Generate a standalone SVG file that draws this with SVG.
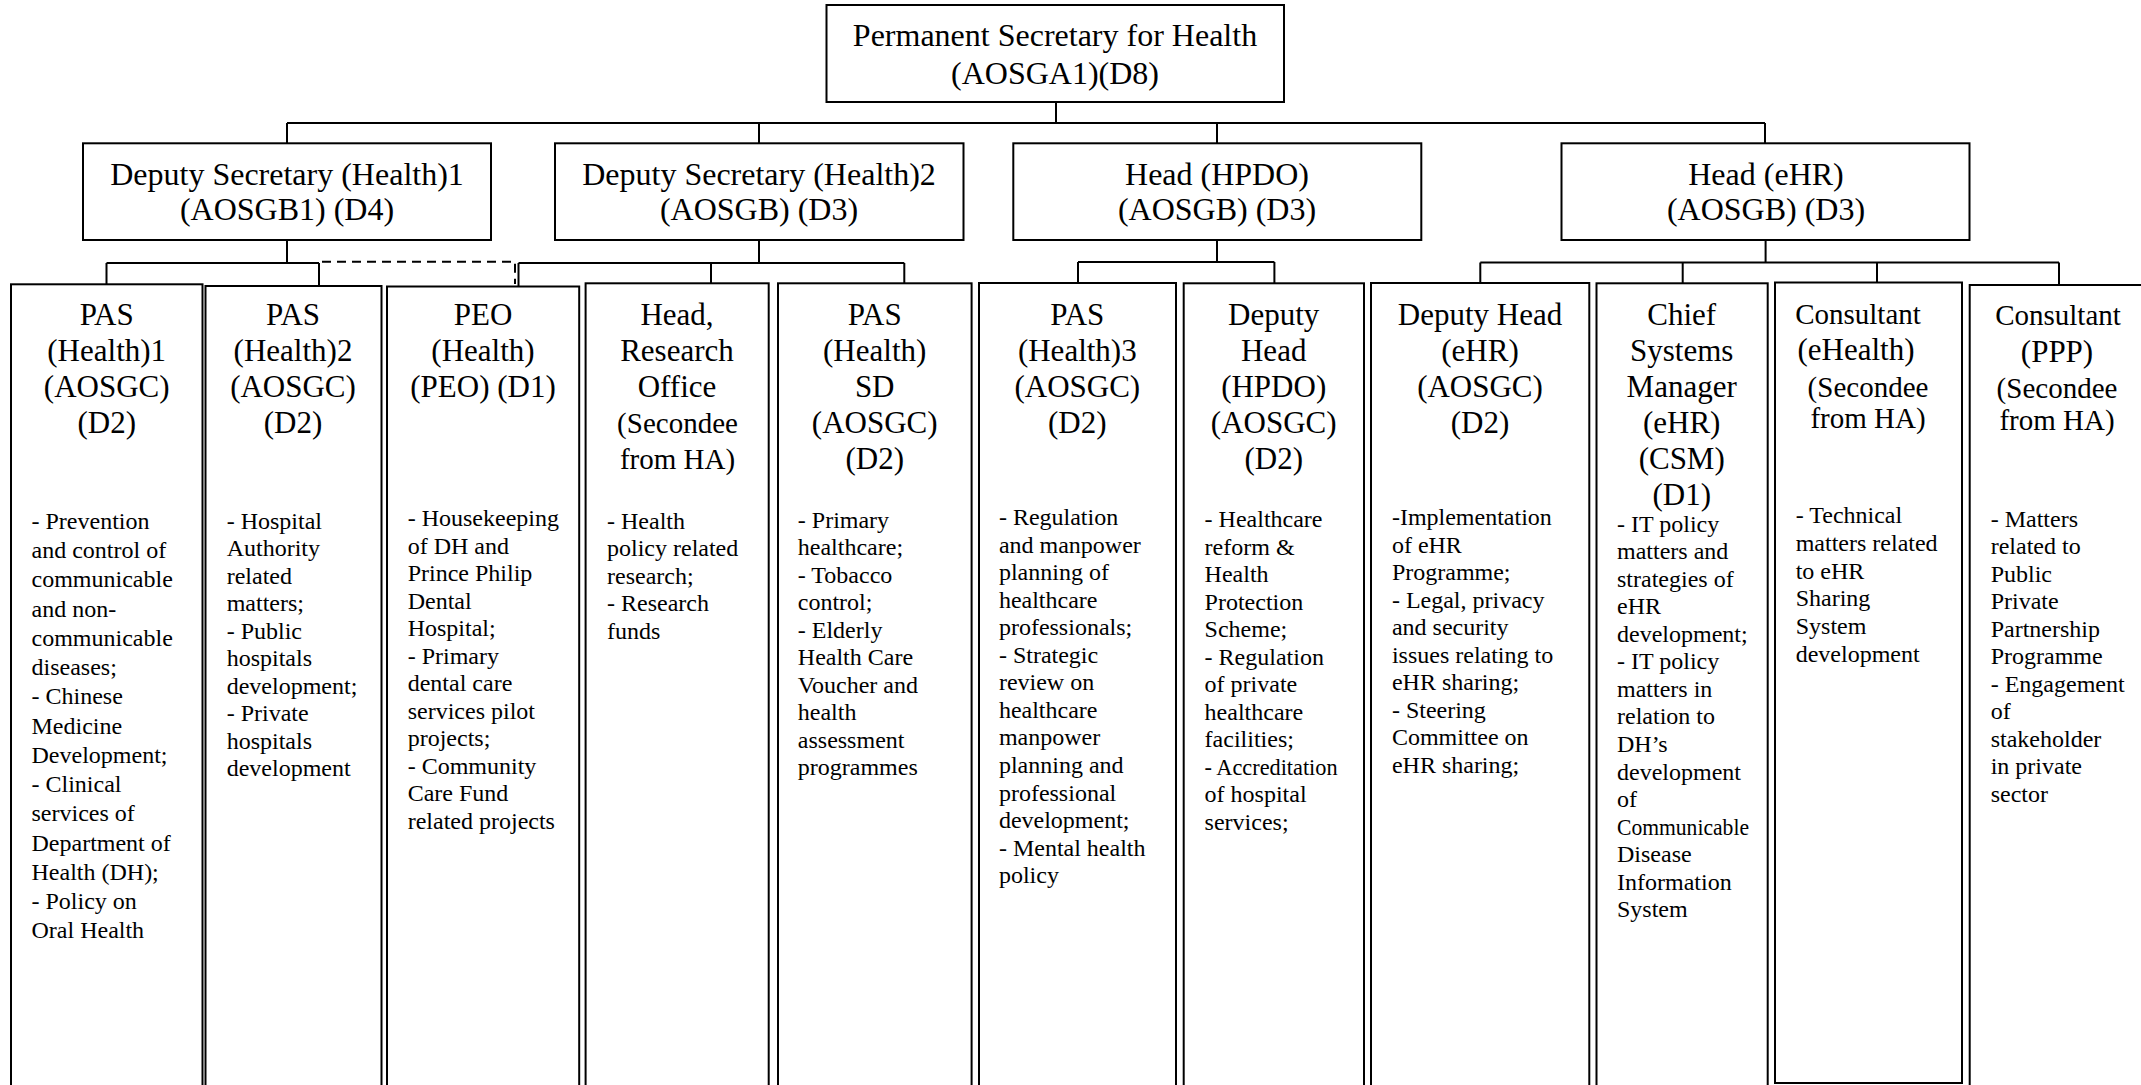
<svg xmlns="http://www.w3.org/2000/svg" width="2141" height="1085" viewBox="0 0 2141 1085">
<style>
.box{fill:#fff;stroke:#000;stroke-width:2}
.conn{fill:none;stroke:#000;stroke-width:2}
.dash{stroke-dasharray:9 6}
text{font-family:"Liberation Serif","Times New Roman",serif;fill:#000}
.t{font-size:32px;text-anchor:middle}
.h{font-size:31px;text-anchor:middle}
.s{font-size:29px;text-anchor:middle}
.b{font-size:24px}
</style>
<rect x="0" y="0" width="2141" height="1085" fill="#fff"/>

<g id="connectors">
  <path class="conn" d="M1056 102V123M287 123H1765M287 123V143M759 123V143M1217 123V143M1765 123V143"/>
  <path class="conn" d="M287 240V263M106.5 263H319M106.5 263V284M319 263V286"/>
  <path class="conn dash" d="M322 261.7H515V284"/>
  <path class="conn" d="M759 240V263M518.5 263H904.3M518.5 263V290M711 263V287M904.3 263V284"/>
  <path class="conn" d="M1217 240V262M1078 262H1274.4M1078 262V283M1274.4 262V283"/>
  <path class="conn" d="M1765.6 240V262.5M1480.3 262.5H2059M1480.3 262.5V283M1682.7 262.5V283M1877 262.5V283M2059 262.5V285"/>
</g>

<g id="ps">
  <rect class="box" x="826.5" y="5" width="457.5" height="97"/>
  <text class="t" x="1055" y="46">Permanent Secretary for Health</text>
  <text class="t" x="1055" y="84">(AOSGA1)(D8)</text>
</g>

<g id="ds1">
  <rect class="box" x="83" y="143.3" width="408" height="96.7"/>
  <text class="t" x="287" y="185">Deputy Secretary (Health)1</text>
  <text class="t" x="287" y="220">(AOSGB1) (D4)</text>
</g>
<g id="ds2">
  <rect class="box" x="555" y="143.3" width="408.5" height="96.7"/>
  <text class="t" x="759" y="185">Deputy Secretary (Health)2</text>
  <text class="t" x="759" y="220">(AOSGB) (D3)</text>
</g>
<g id="hpdo">
  <rect class="box" x="1013.3" y="143.3" width="408" height="96.7"/>
  <text class="t" x="1217" y="185">Head (HPDO)</text>
  <text class="t" x="1217" y="220">(AOSGB) (D3)</text>
</g>
<g id="ehr">
  <rect class="box" x="1561.5" y="143.3" width="408" height="96.7"/>
  <text class="t" x="1766" y="185">Head (eHR)</text>
  <text class="t" x="1766" y="220">(AOSGB) (D3)</text>
</g>

<g id="pas1">
  <rect class="box" x="11" y="284.3" width="191.5" height="820"/>
  <text class="h" x="106.7" y="325">PAS</text>
  <text class="h" x="106.7" y="361">(Health)1</text>
  <text class="h" x="106.7" y="397">(AOSGC)</text>
  <text class="h" x="106.7" y="433">(D2)</text>
  <text class="b" x="31.5" y="529"><tspan x="31.5">- Prevention</tspan><tspan x="31.5" dy="29.24">and control of</tspan><tspan x="31.5" dy="29.24">communicable</tspan><tspan x="31.5" dy="29.24">and non-</tspan><tspan x="31.5" dy="29.24">communicable</tspan><tspan x="31.5" dy="29.24">diseases;</tspan><tspan x="31.5" dy="29.24">- Chinese</tspan><tspan x="31.5" dy="29.24">Medicine</tspan><tspan x="31.5" dy="29.24">Development;</tspan><tspan x="31.5" dy="29.24">- Clinical</tspan><tspan x="31.5" dy="29.24">services of</tspan><tspan x="31.5" dy="29.24">Department of</tspan><tspan x="31.5" dy="29.24">Health (DH);</tspan><tspan x="31.5" dy="29.24">- Policy on</tspan><tspan x="31.5" dy="29.24">Oral Health</tspan></text>
</g>

<g id="pas2">
  <rect class="box" x="205.5" y="286" width="176" height="820"/>
  <text class="h" x="293" y="325">PAS</text>
  <text class="h" x="293" y="361">(Health)2</text>
  <text class="h" x="293" y="397">(AOSGC)</text>
  <text class="h" x="293" y="433">(D2)</text>
  <text class="b" x="226.7" y="529"><tspan x="226.7">- Hospital</tspan><tspan x="226.7" dy="27.44">Authority</tspan><tspan x="226.7" dy="27.44">related</tspan><tspan x="226.7" dy="27.44">matters;</tspan><tspan x="226.7" dy="27.44">- Public</tspan><tspan x="226.7" dy="27.44">hospitals</tspan><tspan x="226.7" dy="27.44">development;</tspan><tspan x="226.7" dy="27.44">- Private</tspan><tspan x="226.7" dy="27.44">hospitals</tspan><tspan x="226.7" dy="27.44">development</tspan></text>
</g>

<g id="peo">
  <rect class="box" x="387" y="286.5" width="192.2" height="820"/>
  <text class="h" x="483" y="325">PEO</text>
  <text class="h" x="483" y="361">(Health)</text>
  <text class="h" x="483" y="397">(PEO) (D1)</text>
  <text class="b" x="407.7" y="526"><tspan x="407.7">- Housekeeping</tspan><tspan x="407.7" dy="27.5">of DH and</tspan><tspan x="407.7" dy="27.5">Prince Philip</tspan><tspan x="407.7" dy="27.5">Dental</tspan><tspan x="407.7" dy="27.5">Hospital;</tspan><tspan x="407.7" dy="27.5">- Primary</tspan><tspan x="407.7" dy="27.5">dental care</tspan><tspan x="407.7" dy="27.5">services pilot</tspan><tspan x="407.7" dy="27.5">projects;</tspan><tspan x="407.7" dy="27.5">- Community</tspan><tspan x="407.7" dy="27.5">Care Fund</tspan><tspan x="407.7" dy="27.5">related projects</tspan></text>
</g>

<g id="research">
  <rect class="box" x="585.6" y="283.3" width="183.1" height="820"/>
  <text class="h" x="677" y="325">Head,</text>
  <text class="h" x="677" y="361">Research</text>
  <text class="h" x="677" y="397">Office</text>
  <text class="s" x="677.5" y="433">(Secondee</text>
  <text class="s" x="677.5" y="469">from HA)</text>
  <text class="b" x="607" y="528.5"><tspan x="607">- Health</tspan><tspan x="607" dy="27.6">policy related</tspan><tspan x="607" dy="27.6">research;</tspan><tspan x="607" dy="27.6">- Research</tspan><tspan x="607" dy="27.6">funds</tspan></text>
</g>

<g id="passd">
  <rect class="box" x="778" y="283.3" width="193.6" height="820"/>
  <text class="h" x="874.7" y="325">PAS</text>
  <text class="h" x="874.7" y="361">(Health)</text>
  <text class="h" x="874.7" y="397">SD</text>
  <text class="h" x="874.7" y="433">(AOSGC)</text>
  <text class="h" x="874.7" y="469">(D2)</text>
  <text class="b" x="797.8" y="527.5"><tspan x="797.8">- Primary</tspan><tspan x="797.8" dy="27.5">healthcare;</tspan><tspan x="797.8" dy="27.5">- Tobacco</tspan><tspan x="797.8" dy="27.5">control;</tspan><tspan x="797.8" dy="27.5">- Elderly</tspan><tspan x="797.8" dy="27.5">Health Care</tspan><tspan x="797.8" dy="27.5">Voucher and</tspan><tspan x="797.8" dy="27.5">health</tspan><tspan x="797.8" dy="27.5">assessment</tspan><tspan x="797.8" dy="27.5">programmes</tspan></text>
</g>

<g id="pas3">
  <rect class="box" x="979" y="283" width="197" height="820"/>
  <text class="h" x="1077.3" y="325">PAS</text>
  <text class="h" x="1077.3" y="361">(Health)3</text>
  <text class="h" x="1077.3" y="397">(AOSGC)</text>
  <text class="h" x="1077.3" y="433">(D2)</text>
  <text class="b" x="998.9" y="525"><tspan x="998.9">- Regulation</tspan><tspan x="998.9" dy="27.55">and manpower</tspan><tspan x="998.9" dy="27.55">planning of</tspan><tspan x="998.9" dy="27.55">healthcare</tspan><tspan x="998.9" dy="27.55">professionals;</tspan><tspan x="998.9" dy="27.55">- Strategic</tspan><tspan x="998.9" dy="27.55">review on</tspan><tspan x="998.9" dy="27.55">healthcare</tspan><tspan x="998.9" dy="27.55">manpower</tspan><tspan x="998.9" dy="27.55">planning and</tspan><tspan x="998.9" dy="27.55">professional</tspan><tspan x="998.9" dy="27.55">development;</tspan><tspan x="998.9" dy="27.55">- Mental health</tspan><tspan x="998.9" dy="27.55">policy</tspan></text>
</g>

<g id="dhhpdo">
  <rect class="box" x="1183.7" y="283.3" width="180.3" height="820"/>
  <text class="h" x="1273.7" y="325">Deputy</text>
  <text class="h" x="1273.7" y="361">Head</text>
  <text class="h" x="1273.7" y="397">(HPDO)</text>
  <text class="h" x="1273.7" y="433">(AOSGC)</text>
  <text class="h" x="1273.7" y="469">(D2)</text>
  <text class="b" x="1204.6" y="527"><tspan x="1204.6">- Healthcare</tspan><tspan x="1204.6" dy="27.5">reform &amp;</tspan><tspan x="1204.6" dy="27.5">Health</tspan><tspan x="1204.6" dy="27.5">Protection</tspan><tspan x="1204.6" dy="27.5">Scheme;</tspan><tspan x="1204.6" dy="27.5">- Regulation</tspan><tspan x="1204.6" dy="27.5">of private</tspan><tspan x="1204.6" dy="27.5">healthcare</tspan><tspan x="1204.6" dy="27.5">facilities;</tspan></text>
  <text class="b" x="1204.6" y="774.5" textLength="133" lengthAdjust="spacingAndGlyphs">- Accreditation</text>
  <text class="b" x="1204.6" y="802"><tspan x="1204.6">of hospital</tspan><tspan x="1204.6" dy="27.5">services;</tspan></text>
</g>

<g id="dhehr">
  <rect class="box" x="1371" y="283" width="218.3" height="820"/>
  <text class="h" x="1480" y="325">Deputy Head</text>
  <text class="h" x="1480" y="361">(eHR)</text>
  <text class="h" x="1480" y="397">(AOSGC)</text>
  <text class="h" x="1480" y="433">(D2)</text>
  <text class="b" x="1391.9" y="525"><tspan x="1391.9">-Implementation</tspan><tspan x="1391.9" dy="27.5">of eHR</tspan><tspan x="1391.9" dy="27.5">Programme;</tspan><tspan x="1391.9" dy="27.5">- Legal, privacy</tspan><tspan x="1391.9" dy="27.5">and security</tspan><tspan x="1391.9" dy="27.5">issues relating to</tspan><tspan x="1391.9" dy="27.5">eHR sharing;</tspan><tspan x="1391.9" dy="27.5">- Steering</tspan><tspan x="1391.9" dy="27.5">Committee on</tspan><tspan x="1391.9" dy="27.5">eHR sharing;</tspan></text>
</g>

<g id="csm">
  <rect class="box" x="1596.5" y="283.3" width="171.2" height="820"/>
  <text class="h" x="1681.7" y="325">Chief</text>
  <text class="h" x="1681.7" y="361">Systems</text>
  <text class="h" x="1681.7" y="397">Manager</text>
  <text class="h" x="1681.7" y="433">(eHR)</text>
  <text class="h" x="1681.7" y="469">(CSM)</text>
  <text class="h" x="1681.7" y="505">(D1)</text>
  <text class="b" x="1617" y="531.7"><tspan x="1617">- IT policy</tspan><tspan x="1617" dy="27.54">matters and</tspan><tspan x="1617" dy="27.54">strategies of</tspan><tspan x="1617" dy="27.54">eHR</tspan><tspan x="1617" dy="27.54">development;</tspan><tspan x="1617" dy="27.54">- IT policy</tspan><tspan x="1617" dy="27.54">matters in</tspan><tspan x="1617" dy="27.54">relation to</tspan><tspan x="1617" dy="27.54">DH’s</tspan><tspan x="1617" dy="27.54">development</tspan><tspan x="1617" dy="27.54">of</tspan></text>
  <text class="b" x="1617" y="834.6" textLength="132" lengthAdjust="spacingAndGlyphs">Communicable</text>
  <text class="b" x="1617" y="862.2"><tspan x="1617">Disease</tspan><tspan x="1617" dy="27.54">Information</tspan><tspan x="1617" dy="27.54">System</tspan></text>
</g>

<g id="ehealth">
  <rect class="box" x="1775" y="282.5" width="187" height="800.5"/>
  <text class="s" x="1858" y="323.5">Consultant</text>
  <text class="h" x="1856" y="360">(eHealth)</text>
  <text class="s" x="1868" y="397">(Secondee</text>
  <text class="s" x="1868" y="428">from HA)</text>
  <text class="b" x="1795.7" y="523.3"><tspan x="1795.7">- Technical</tspan><tspan x="1795.7" dy="27.7">matters related</tspan><tspan x="1795.7" dy="27.7">to eHR</tspan><tspan x="1795.7" dy="27.7">Sharing</tspan><tspan x="1795.7" dy="27.7">System</tspan><tspan x="1795.7" dy="27.7">development</tspan></text>
</g>

<g id="ppp">
  <rect class="box" x="1969.7" y="285" width="200" height="820"/>
  <text class="s" x="2058" y="325">Consultant</text>
  <text class="h" x="2057" y="361.7">(PPP)</text>
  <text class="s" x="2057" y="398">(Secondee</text>
  <text class="s" x="2057" y="430">from HA)</text>
  <text class="b" x="1990.7" y="526.7"><tspan x="1990.7">- Matters</tspan><tspan x="1990.7" dy="27.5">related to</tspan><tspan x="1990.7" dy="27.5">Public</tspan><tspan x="1990.7" dy="27.5">Private</tspan><tspan x="1990.7" dy="27.5">Partnership</tspan><tspan x="1990.7" dy="27.5">Programme</tspan><tspan x="1990.7" dy="27.5">- Engagement</tspan><tspan x="1990.7" dy="27.5">of</tspan><tspan x="1990.7" dy="27.5">stakeholder</tspan><tspan x="1990.7" dy="27.5">in private</tspan><tspan x="1990.7" dy="27.5">sector</tspan></text>
</g>
</svg>
